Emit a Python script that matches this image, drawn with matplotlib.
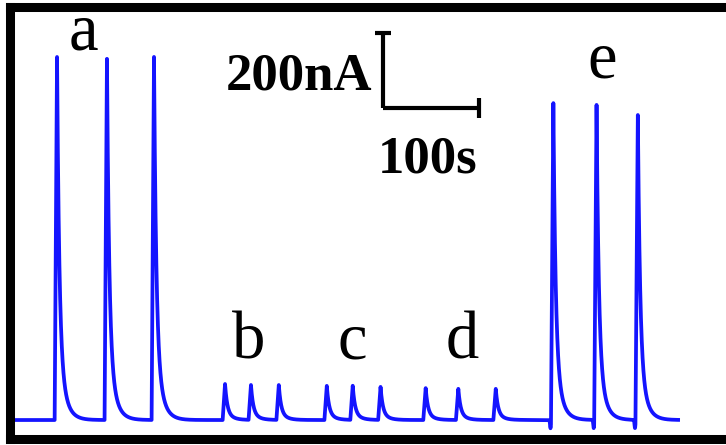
import numpy as np
import matplotlib
matplotlib.use("Agg")
import matplotlib.pyplot as plt

# Injection peaks: apex time (s) and peak current (nA)
peak_times_a = [49, 101, 150]
peak_heights_a = [968, 963, 968]
peak_times_b = [224, 251, 280]
peak_heights_b = [96, 93, 93]
peak_times_c = [330, 357, 386]
peak_heights_c = [91, 91, 88]
peak_times_d = [433, 467, 506]
peak_heights_d = [85, 83, 83]
peak_times_e = [566, 611, 654]
peak_heights_e = [845, 840, 813]
injection_dip_e = [-22, -22, -22]

group_labels = ["a", "b", "c", "d", "e"]
trace_start, trace_end = 5.2, 696.0

# scale bar sizes
bar_time = 100      # s
bar_current = 200   # nA


def peak_shape(t, t0, h):
    """Fast rise to the apex followed by a two-stage exponential decay."""
    out = np.zeros_like(t)
    rise = (t >= t0 - 2.5) & (t < t0)
    out[rise] = h * (t[rise] - (t0 - 2.5)) / 2.5
    dec = t >= t0
    dt = t[dec] - t0
    out[dec] = h * (0.75 * np.exp(-dt / 2.3) + 0.25 * np.exp(-dt / 6.5))
    return out


t = np.arange(trace_start, trace_end, 0.05)
current = np.zeros_like(t)
for times, heights in [(peak_times_a, peak_heights_a), (peak_times_b, peak_heights_b),
                       (peak_times_c, peak_heights_c), (peak_times_d, peak_heights_d),
                       (peak_times_e, peak_heights_e)]:
    for t0, h in zip(times, heights):
        current += peak_shape(t, t0, h)
for t0, dip in zip(peak_times_e, injection_dip_e):
    current += dip * np.exp(-0.5 * ((t - (t0 - 3.0)) / 0.45) ** 2)

W, H = 726, 445
fig = plt.figure(figsize=(W / 100, H / 100), dpi=100)
ax = fig.add_axes([10 / W, (H - 438.5) / H, 730 / W, (438.5 - 7) / H])
ax.set_xlim(0, 730 / 0.96)
ax.set_ylim(-49.3, 1101.3)

ax.plot(t, current, color="#1414ff", lw=2.7, solid_joinstyle="round")

for side in ["left", "top", "bottom"]:
    ax.spines[side].set_linewidth(6.5)
    ax.spines[side].set_color("black")
ax.spines["right"].set_visible(False)
ax.set_xticks([])
ax.set_yticks([])

# scale bar
sx, sy = 388.5, 832
kw = dict(color="black", lw=3.0, solid_capstyle="butt")
ax.plot([sx, sx], [sy, sy + bar_current], **kw)
ax.plot([sx, sx + bar_time], [sy, sy], **kw)
ax.plot([sx - 8, sx + 8], [sy + bar_current, sy + bar_current], **kw)
ax.plot([sx + bar_time, sx + bar_time], [sy - 27, sy + 27], **kw)

serif = "Liberation Serif"
ax.text(377, 880, f"{bar_current}nA", ha="right", va="baseline",
        fontsize=38, fontweight="bold", family=serif)
ax.text(383, 659, f"{bar_time}s", ha="left", va="baseline",
        fontsize=38, fontweight="bold", family=serif)

label_x = [77, 249, 356, 471, 617]
label_y = [987, 163, 163, 163, 912]
for lab, x, y in zip(group_labels, label_x, label_y):
    ax.text(x, y, lab, ha="center", va="baseline", fontsize=48, family=serif)

fig.savefig("out.png", dpi=100)
